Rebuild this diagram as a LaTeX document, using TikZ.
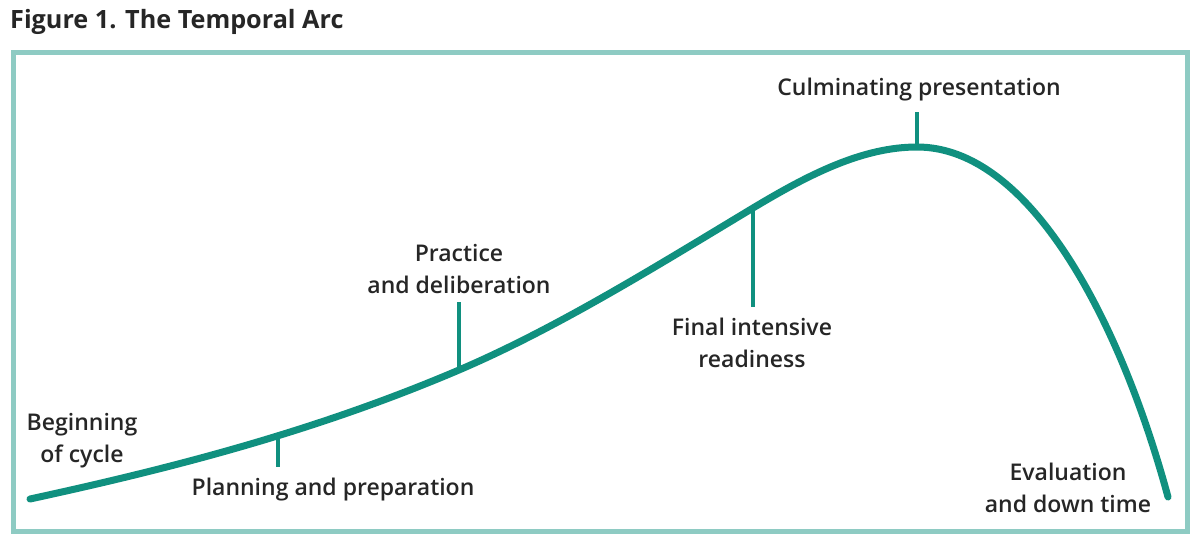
\documentclass[tikz,border=0pt]{standalone}
\usepackage{fontspec}
\setmainfont{Open Sans Semibold}
\newfontfamily\titlefont{Open Sans}
\definecolor{curveteal}{HTML}{10907F}
\definecolor{frameteal}{HTML}{8ECBC3}
\definecolor{txt}{HTML}{262626}
\begin{document}
\begin{tikzpicture}[x=1pt,y=-1pt,
  lab/.style={text=txt,font=\fontsize{23}{31.5}\selectfont,align=center,inner sep=0pt},
  tick/.style={draw=curveteal,line width=4.5pt},
  arc/.style={draw=curveteal,line width=7pt,line cap=round}]
\useasboundingbox (0,0) rectangle (1200,542);
\fill[white] (0,0) rectangle (1200,542);
% frame
\draw[frameteal,line width=5pt] (13,52) rectangle (1187,531);
% title
\node[text=txt,font=\titlefont\bfseries\fontsize{25.2}{28}\selectfont,anchor=base west,inner sep=0pt] (title) at (10,28) {Figure 1. The Temporal Arc};
% curve points
\coordinate (p0) at (30,499);
\coordinate (p1) at (459,370);
\coordinate (p2) at (753,208);
\coordinate (p3) at (917,147);
\coordinate (p5) at (1168,497);
\draw[arc] (p0) .. controls (173,468) and (316,431) .. (p1)
  .. controls (557,328) and (655,267) .. (p2)
  .. controls (808,175) and (862,147) .. (p3)
  .. controls (1030,147) and (1120,320) .. (p5);
% ticks
\coordinate (t1a) at (278,437); \coordinate (t1b) at (278,467);
\coordinate (t2a) at (459,370); \coordinate (t2b) at (459,302);
\coordinate (t3a) at (753,209); \coordinate (t3b) at (753,307);
\coordinate (t4a) at (917,147); \coordinate (t4b) at (917,112);
\draw[tick] (t1a) -- (t1b);
\draw[tick] (t2a) -- (t2b);
\draw[tick] (t3a) -- (t3b);
\draw[tick] (t4a) -- (t4b);
% labels (anchor base = last line baseline)
\node[lab,anchor=base] (begin) at (82,462) {Beginning\\of cycle};
\node[lab,anchor=base] (plan) at (333,495) {Planning and preparation};
\node[lab,anchor=base] (prac) at (459,293) {Practice\\and deliberation};
\node[lab,anchor=base] (final) at (752,367) {Final intensive\\readiness};
\node[lab,anchor=base] (culm) at (919,95) {Culminating presentation};
\node[lab,anchor=base] (eval) at (1068,512) {Evaluation\\and down time};
\end{tikzpicture}
\end{document}
